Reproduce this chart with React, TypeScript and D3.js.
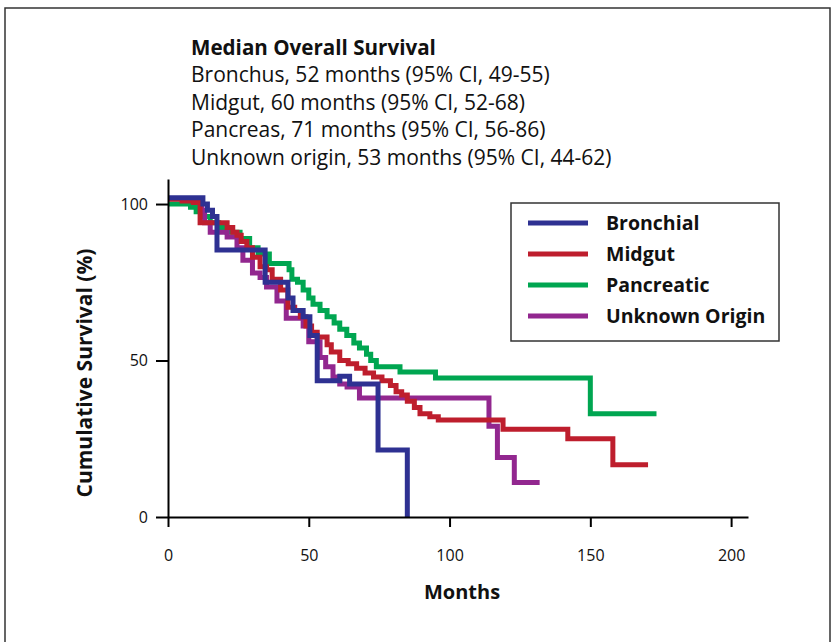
import React, { useEffect, useRef } from 'react'
import * as d3 from 'd3'

const WIDTH = 836
const HEIGHT = 642
const margin = { top: 179, right: 88, bottom: 125, left: 168 }
const FONT = '"Open Sans", "Noto Sans", sans-serif'

const SERIES = ['Bronchial', 'Midgut', 'Pancreatic', 'Unknown Origin']
const COLORS = ['#2e3192', '#be1e2d', '#00a651', '#92278f']

// [months, cumulative survival %]
const bronchial = [
  [0, 102], [12.4, 100], [14, 98], [15.8, 96], [17.4, 85.3], [34.5, 75], [42.6, 70],
  [44.4, 66], [48, 64], [50.4, 58], [53, 43.5], [61, 45], [64.5, 42.5], [74.6, 21.4], [85, 0]
]
const midgut = [
  [0, 101.5], [5, 101], [9, 100.5], [11.4, 94], [21, 92.5], [23, 91], [24.5, 90], [26, 88],
  [28, 86], [30, 83], [32.7, 80], [35, 79], [37, 76], [40, 72.5], [42.6, 67], [45, 66],
  [47, 64], [49, 61], [51, 59], [53, 57.5], [56.5, 55], [58, 52.7], [61, 50], [64, 49],
  [67, 47.5], [70, 46], [73, 44.7], [76, 43.5], [79, 42], [81, 40], [83, 39], [85, 37],
  [87.5, 35], [89.5, 33], [93, 32], [96, 31], [119, 28], [142, 25], [158, 16.7], [170.5, 16.7]
]
const pancreatic = [
  [0, 100], [8, 99], [10, 97.5], [12.4, 96], [15, 94], [18, 92.5], [21, 91], [25.6, 89],
  [29, 86], [32, 84], [36, 81], [43, 79], [44, 76], [46, 75], [48, 72.5], [50, 70],
  [51.5, 68], [54, 66], [56.5, 64], [59, 62], [61, 60], [63.5, 58], [66, 55.6], [68, 54],
  [70.5, 52], [72, 50], [74, 48], [82.4, 46.3], [95, 44.4], [150, 33], [173.5, 33]
]
const unknownOrigin = [
  [0, 101.8], [12, 98], [13, 94], [15, 91], [21, 89.5], [24.5, 86], [26.6, 82], [30, 78],
  [32.7, 76.5], [35, 73.5], [38.7, 69], [42, 63.5], [48, 61], [50, 56], [54, 51], [56, 48],
  [58.6, 44.7], [61, 42.5], [63.6, 41.5], [68, 38], [114, 29], [117, 19], [123, 11], [132, 11]
]
const CURVES = [bronchial, midgut, pancreatic, unknownOrigin]
const DRAW_ORDER = [2, 3, 1, 0]

const X_TICKS = [0, 50, 100, 150, 200]
const Y_TICKS = [0, 50, 100]

const MEDIAN_TITLE = 'Median Overall Survival'
const MEDIAN_LINES = [
  'Bronchus, 52 months (95% CI, 49-55)',
  'Midgut, 60 months (95% CI, 52-68)',
  'Pancreas, 71 months (95% CI, 56-86)',
  'Unknown origin, 53 months (95% CI, 44-62)'
]

export default function App() {
  const xAxisRef = useRef<SVGGElement>(null)
  const yAxisRef = useRef<SVGGElement>(null)

  const chartWidth = WIDTH - margin.left - margin.right
  const chartHeight = HEIGHT - margin.top - margin.bottom

  const x = d3.scaleLinear().domain([0, 206]).range([0, chartWidth])
  const y = d3.scaleLinear().domain([0, 108]).range([chartHeight, 0])

  const line = d3.line<number[]>()
    .x(d => x(d[0]))
    .y(d => y(d[1]))
    .curve(d3.curveStepAfter)

  useEffect(() => {
    const xAxis = d3.select(xAxisRef.current)
    xAxis.call(d3.axisBottom(x).tickValues(X_TICKS).tickSize(10).tickPadding(23).tickSizeOuter(0) as any)
    xAxis.select('.domain').attr('stroke-width', 2)
    xAxis.selectAll('.tick line').attr('stroke-width', 2)
    xAxis.selectAll('.tick text').attr('font-size', 16).attr('font-family', FONT).attr('fill', '#111')

    const yAxis = d3.select(yAxisRef.current)
    yAxis.call(d3.axisLeft(y).tickValues(Y_TICKS).tickSize(12).tickPadding(8).tickSizeOuter(0) as any)
    yAxis.select('.domain').attr('stroke-width', 2)
    yAxis.selectAll('.tick line').attr('stroke-width', 2)
    yAxis.selectAll('.tick text').attr('font-size', 16).attr('font-family', FONT).attr('fill', '#111')
  }, [])

  return (
    <svg width={WIDTH} height={HEIGHT} style={{ position: 'absolute', left: 0, top: 0, background: '#fff' }}>
      <rect x={5} y={8} width={825} height={660} fill="none" stroke="#333" strokeWidth={1.5} />

      <g fontFamily={FONT} fill="#111">
        <text x={191} y={55} fontSize={20.6} fontWeight="bold">{MEDIAN_TITLE}</text>
        {MEDIAN_LINES.map((t, i) => (
          <text key={t} x={191} y={82 + i * 27.5} fontSize={21}>{t}</text>
        ))}
      </g>

      <g transform={`translate(${margin.left}, ${margin.top})`}>
        {DRAW_ORDER.map(i => (
          <path key={SERIES[i]} d={line(CURVES[i] as number[][]) || ''} fill="none"
            stroke={COLORS[i]} strokeWidth={5} strokeLinejoin="miter" />
        ))}
        <g ref={xAxisRef} transform={`translate(0, ${chartHeight})`} />
        <g ref={yAxisRef} />
      </g>

      <text transform="translate(92, 373) rotate(-90)" textAnchor="middle" fontFamily={FONT}
        fontSize={21} fontWeight="bold" fill="#111">Cumulative Survival (%)</text>
      <text x={462} y={599} textAnchor="middle" fontFamily={FONT} fontSize={20} fontWeight="bold" fill="#111">Months</text>

      <g>
        <rect x={511} y={203} width={268} height={138} fill="#fff" stroke="#333" strokeWidth={1.5} />
        {SERIES.map((s, i) => (
          <g key={s} transform={`translate(528, ${223 + i * 31})`}>
            <line x1={0} x2={60} y1={0} y2={0} stroke={COLORS[i]} strokeWidth={5} />
            <text x={78} y={7} fontFamily={FONT} fontSize={19.5} fontWeight="bold" fill="#111">{s}</text>
          </g>
        ))}
      </g>
    </svg>
  )
}
